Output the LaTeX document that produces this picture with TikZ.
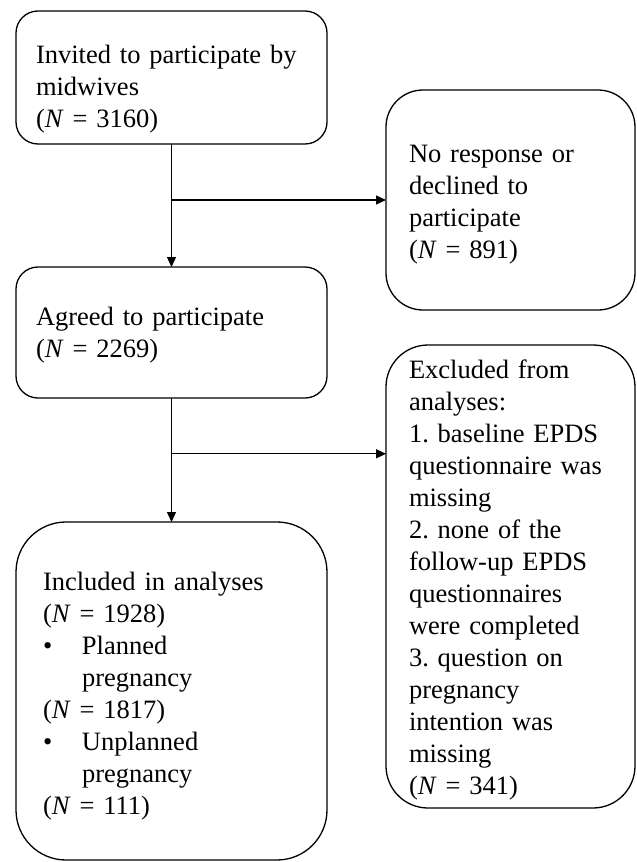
\documentclass[tikz,border=0pt]{standalone}
\usepackage{fontspec}
\setmainfont{Liberation Serif}
\usetikzlibrary{arrows.meta,calc}
\tikzset{
  flowbox/.style={draw=black, line width=1.3pt, rectangle, align=left, outer sep=0pt,
    inner ysep=0pt, font=\fontsize{26.5}{32}\selectfont\frenchspacing},
  conn/.style={draw=black, line width=1.3pt},
  arr/.style={conn, -{Triangle[length=10pt,width=9pt]}}
}
\newcommand{\Nn}[1]{(\textit{N} = #1)}
\newcommand{\dn}[1]{\rule{0pt}{\dimexpr 18pt + 2\dimexpr #1\relax\relax}}
\begin{document}
\begin{tikzpicture}[x=1pt,y=-1pt]
\useasboundingbox (0,0) rectangle (637,862);
\node[flowbox, rounded corners=22pt, inner xsep=20pt, text width=271pt, minimum height=133pt] (invited) at (171.5,77.5)
  {\dn{12pt}Invited to participate by\\midwives\\\Nn{3160}};
\node[flowbox, rounded corners=37pt, inner xsep=23pt, text width=203pt, minimum height=220pt] (noresp) at (510.5,200)
  {\dn{4pt}No response or\\declined to\\participate\\\Nn{891}};
\node[flowbox, rounded corners=22pt, inner xsep=20pt, text width=271pt, minimum height=131pt] (agreed) at (171.5,332.5)
  {\dn{3pt}Agreed to participate\\\Nn{2269}};
\node[flowbox, rounded corners=50pt, inner xsep=27pt, text width=257pt, minimum height=338pt] (included) at (171.5,691)
  {\dn{5pt}Included in analyses\\\Nn{1928}\\\makebox[39pt][l]{•}Planned\\\hspace*{39pt}pregnancy\\\Nn{1817}\\\makebox[39pt][l]{•}Unplanned\\\hspace*{39pt}pregnancy\\\Nn{111}};
\node[flowbox, rounded corners=42pt, inner xsep=23pt, text width=203pt, minimum height=463pt] (excluded) at (510.5,576.5)
  {\dn{4pt}Excluded from\\analyses:\\1. baseline EPDS\\questionnaire was\\missing\\2. none of the\\follow-up EPDS\\questionnaires\\were completed\\3. question on\\pregnancy\\intention was\\missing\\\Nn{341}};
\coordinate (j1) at (invited.south |- noresp.west);
\coordinate (j2) at ($(agreed.south)!0.45!(included.north)$);
\draw[arr] (invited.south) -- (agreed.north);
\draw[arr] (j1) -- (noresp.west);
\draw[arr] (agreed.south) -- (included.north);
\draw[arr] (j2) -- (j2 -| excluded.west);
\end{tikzpicture}
\end{document}
